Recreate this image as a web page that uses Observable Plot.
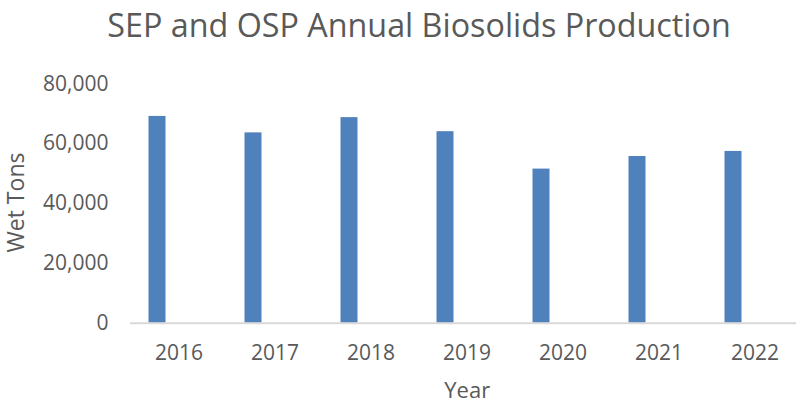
<!DOCTYPE html>
<html>
<head>
<meta charset="utf-8">
<script src="https://cdn.jsdelivr.net/npm/d3@7"></script>
<script src="https://cdn.jsdelivr.net/npm/@observablehq/plot@0.6"></script>
<style>
  html, body { margin: 0; padding: 0; background: #fff; }
  #wrap { width: 796px; height: 403px; position: relative; overflow: hidden; }
  #title { height: 56px; line-height: 48px; font-family: "Open Sans", sans-serif; font-size: 32.3px; color: #595959; text-align: center; padding-left: 42px; box-sizing: border-box; width: 796px; white-space: nowrap; }
</style>
</head>
<body>
<div id="wrap">
  <div id="title">SEP and OSP Annual Biosolids Production</div>
  <div id="chart"></div>
</div>
<script>
const years = ["2016", "2017", "2018", "2019", "2020", "2021", "2022"];
const wetTons = [69100, 63600, 68700, 64000, 51500, 55700, 57400];
const yTicks = [0, 20000, 40000, 60000, 80000];
const xTitle = "Year";
const yTitle = "Wet Tons";

const data = years.map((y, i) => ({year: y, tons: wetTons[i]}));
const textColor = "#595959";

const chart = Plot.plot({
  width: 796,
  height: 347,
  marginTop: 27.3,
  marginBottom: 80.3,
  marginLeft: 130,
  marginRight: 0,
  style: {fontFamily: "Open Sans, sans-serif", fontSize: "21px", color: textColor, background: "white"},
  x: {type: "band", domain: years, range: [130, 803.6], paddingInner: 0.823, paddingOuter: 0.4115, label: null},
  y: {domain: [0, 80000], label: null},
  marks: [
    Plot.barY(data, {x: "year", y: "tons", fill: "#4f81bd", dx: -21.5}),
    Plot.ruleY([0], {stroke: "#d9d9d9", strokeWidth: 2}),
    Plot.axisY({ticks: yTicks, tickSize: 0, tickPadding: 22, tickFormat: d3.format(","), label: null, fill: textColor}),
    Plot.axisX({tickSize: 0, tickPadding: 22, label: null, fill: textColor}),
    Plot.text([xTitle], {frameAnchor: "bottom", textAnchor: "middle", dx: 3.7, dy: 68, lineAnchor: "middle", fill: textColor, fontSize: 22}),
    Plot.text([yTitle], {frameAnchor: "left", textAnchor: "middle", dx: -113.5, dy: -1, rotate: -90, lineAnchor: "middle", fill: textColor, fontSize: 23})
  ]
});
document.getElementById("chart").appendChild(chart);
</script>
</body>
</html>
